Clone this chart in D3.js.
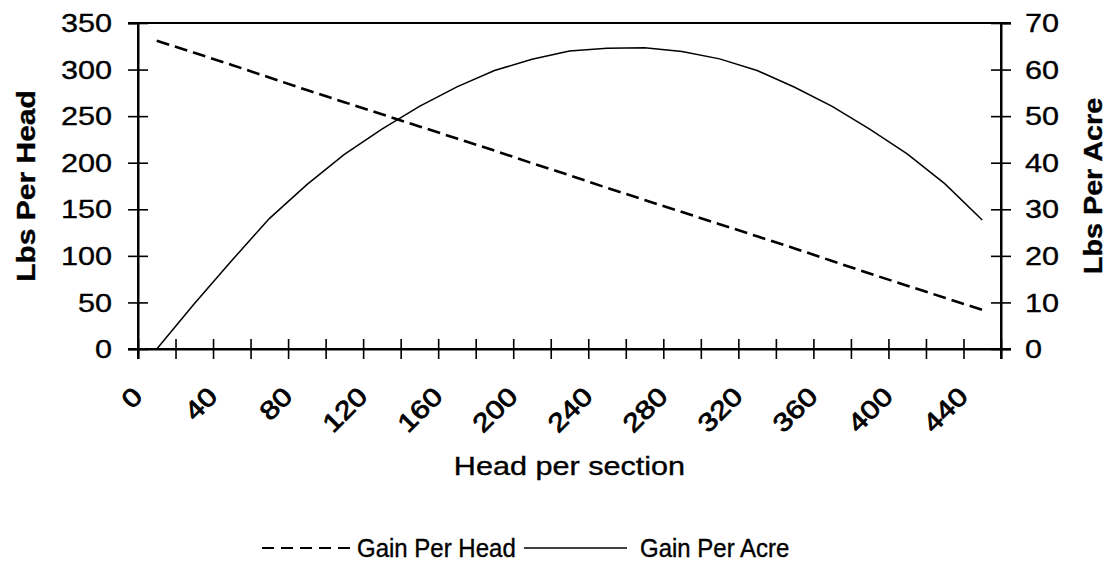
<!DOCTYPE html>
<html>
<head>
<meta charset="utf-8">
<script src="https://cdn.jsdelivr.net/npm/d3@7"></script>
<style>
  body { margin: 0; background: #fff; }
  text { font-family: "Liberation Sans", Arial, sans-serif; fill: #000; stroke: #000; stroke-width: 0.35px; }
</style>
</head>
<body>
<div id="chart"></div>
<script>
// data
var heads = [10, 30, 50, 70, 90, 110, 130, 150, 170, 190, 210, 230, 250, 270, 290, 310, 330, 350, 370, 390, 410, 430, 450];
var gainPerHead = [331, 318, 305, 291.5, 278, 265, 252, 239, 226, 213, 199.5, 186.5, 173, 160, 147, 134, 121, 108, 94.5, 81, 68, 55, 42];
var gainPerAcre = [0, 9.7, 19, 28, 35.3, 41.8, 47.2, 52.1, 56.3, 59.8, 62.2, 64, 64.6, 64.7, 63.9, 62.3, 59.8, 56.2, 52.1, 47.2, 41.9, 35.5, 27.7];

var xTicks = d3.range(0, 461, 20);
var xLabels = [0, 40, 80, 120, 160, 200, 240, 280, 320, 360, 400, 440];
var leftTicks = [0, 50, 100, 150, 200, 250, 300, 350];
var rightTicks = [0, 10, 20, 30, 40, 50, 60, 70];

var svgWidth = 1107;
var svgHeight = 563;

// plot box (window.top is read-only, so avoid "top")
var plotLeft = 138, plotRight = 1001, plotTop = 23, plotBottom = 349;
var fs = 25.5;      // tick / title font size
var stretch = 1.2;  // the original font is wider than Arial

var svg = d3.select("#chart")
  .append("svg")
  .attr("width", svgWidth)
  .attr("height", svgHeight);

var x = d3.scaleLinear().domain([0, 460]).range([plotLeft, plotRight]);
var yHead = d3.scaleLinear().domain([0, 350]).range([plotBottom, plotTop]);
var yAcre = d3.scaleLinear().domain([0, 70]).range([plotBottom, plotTop]);

// top border
svg.append("line")
  .attr("x1", plotLeft - 10).attr("x2", plotRight + 10)
  .attr("y1", plotTop).attr("y2", plotTop)
  .attr("stroke", "#000").attr("stroke-width", 2);

// left axis
var leftAxis = svg.append("g")
  .attr("transform", `translate(${plotLeft},0)`)
  .call(d3.axisLeft(yHead).tickValues(leftTicks).tickSizeOuter(0).tickSize(10).tickFormat(""));
leftAxis.selectAll(".tick line").attr("x1", -10).attr("x2", 10).attr("stroke-width", 1.6);
leftAxis.select(".domain").attr("stroke-width", 2);

// right axis
var rightAxis = svg.append("g")
  .attr("transform", `translate(${plotRight},0)`)
  .call(d3.axisRight(yAcre).tickValues(rightTicks).tickSizeOuter(0).tickSize(10).tickFormat(""));
rightAxis.selectAll(".tick line").attr("x1", -10).attr("x2", 10).attr("stroke-width", 1.6);
rightAxis.select(".domain").attr("stroke-width", 2);

// bottom axis
var bottomAxis = svg.append("g")
  .attr("transform", `translate(0,${plotBottom})`)
  .call(d3.axisBottom(x).tickValues(xTicks).tickSizeOuter(0).tickSize(10).tickFormat(""));
bottomAxis.selectAll(".tick line").attr("y1", -10).attr("y2", 10).attr("stroke-width", 1.6);
bottomAxis.select(".domain").attr("stroke-width", 2);

// axis lines extending past the corners
svg.append("line")
  .attr("x1", plotLeft - 10).attr("x2", plotRight + 10)
  .attr("y1", plotBottom).attr("y2", plotBottom)
  .attr("stroke", "#000").attr("stroke-width", 2);
svg.append("line")
  .attr("x1", plotLeft).attr("x2", plotLeft)
  .attr("y1", plotTop).attr("y2", plotBottom + 10)
  .attr("stroke", "#000").attr("stroke-width", 2);
svg.append("line")
  .attr("x1", plotRight).attr("x2", plotRight)
  .attr("y1", plotTop).attr("y2", plotBottom + 10)
  .attr("stroke", "#000").attr("stroke-width", 2);

// tick labels
svg.selectAll(".lt")
  .data(leftTicks)
  .enter()
  .append("text")
  .attr("class", "lt")
  .attr("text-anchor", "end")
  .attr("font-size", fs)
  .attr("transform", d => `translate(${plotLeft - 26},${yHead(d) + fs * 0.36}) scale(${stretch},1)`)
  .text(d => d);

svg.selectAll(".rt")
  .data(rightTicks)
  .enter()
  .append("text")
  .attr("class", "rt")
  .attr("text-anchor", "start")
  .attr("font-size", fs)
  .attr("transform", d => `translate(${plotRight + 24},${yAcre(d) + fs * 0.36}) scale(${stretch},1)`)
  .text(d => d);

svg.selectAll(".xt")
  .data(xLabels)
  .enter()
  .append("text")
  .attr("class", "xt")
  .attr("text-anchor", "end")
  .attr("font-size", fs)
  .style("stroke-width", "0.8px")
  .attr("transform", d => `translate(${x(d) + 6},398) rotate(-45) scale(${stretch},1)`)
  .text(d => d);

// axis titles
svg.append("text")
  .attr("text-anchor", "middle")
  .attr("font-size", fs)
  .attr("transform", `translate(${(plotLeft + plotRight) / 2},475) scale(${stretch},1)`)
  .text("Head per section");

svg.append("text")
  .attr("text-anchor", "middle")
  .attr("font-size", 25)
  .attr("font-weight", "bold")
  .attr("transform", `translate(35,${(plotTop + plotBottom) / 2}) rotate(-90) scale(${stretch},1)`)
  .text("Lbs Per Head");

svg.append("text")
  .attr("text-anchor", "middle")
  .attr("font-size", 25)
  .attr("font-weight", "bold")
  .attr("transform", `translate(1102,${(plotTop + plotBottom) / 2}) rotate(-90) scale(1.15,1)`)
  .text("Lbs Per Acre");

// series
var headLine = d3.line()
  .x((d, i) => x(heads[i]))
  .y(d => yHead(d));

var acreLine = d3.line()
  .x((d, i) => x(heads[i]))
  .y(d => yAcre(d));

svg.append("path")
  .datum(gainPerHead)
  .attr("fill", "none")
  .attr("stroke", "#000")
  .attr("stroke-width", 2.6)
  .attr("stroke-dasharray", "13,6")
  .attr("d", headLine);

svg.append("path")
  .datum(gainPerAcre)
  .attr("fill", "none")
  .attr("stroke", "#000")
  .attr("stroke-width", 1.5)
  .attr("d", acreLine);

// legend
var legend = svg.append("g");
legend.append("line")
  .attr("x1", 262).attr("x2", 350)
  .attr("y1", 548).attr("y2", 548)
  .attr("stroke", "#000").attr("stroke-width", 1.8)
  .attr("stroke-dasharray", "12,7");
legend.append("text")
  .attr("font-size", 25)
  .attr("transform", "translate(357,557) scale(0.96,1)")
  .text("Gain Per Head");
legend.append("line")
  .attr("x1", 524).attr("x2", 627)
  .attr("y1", 548).attr("y2", 548)
  .attr("stroke", "#000").attr("stroke-width", 1.6);
legend.append("text")
  .attr("font-size", 25)
  .attr("transform", "translate(640,557) scale(0.96,1)")
  .text("Gain Per Acre");
</script>
</body>
</html>
